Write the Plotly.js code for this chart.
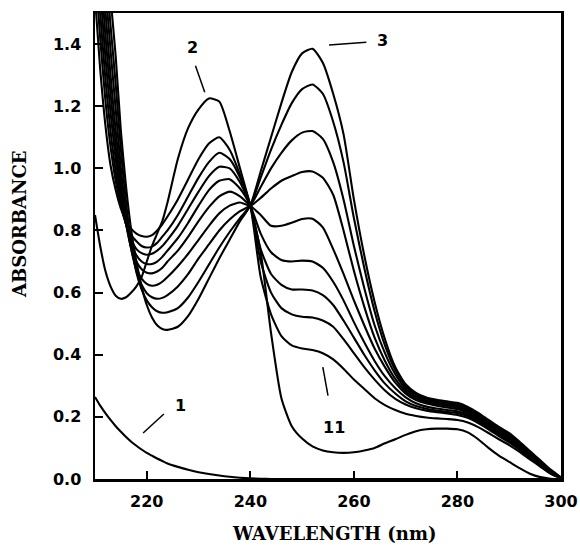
<!DOCTYPE html>
<html>
<head>
<meta charset="utf-8">
<script src="https://cdn.plot.ly/plotly-3.0.1.min.js"></script>
<style>html,body{margin:0;padding:0;background:#fff;}#chart{width:580px;height:548px;}</style>
</head>
<body>
<div id="chart"></div>
<script>
// Wavelength grid (nm)
const wavelength = [210,211,212,213,214,215,216,217,218,219,220,221,222,223,224,
  226,228,230,232,234,236,238,240,242,244,246,248,250,252,254,256,258,260,262,264,266,268,270,
  272,274,276,278,280,282,284,286,288,290,292,294,296,298,300];

// Absorbance of each spectrum (1 = blank, 2..11 = series)
const curve1 = [0.264,0.236,0.212,0.19,0.17,0.152,0.135,0.12,0.107,0.095,0.084,0.075,0.066,0.058,0.05,
  0.039,0.03,0.022,0.016,0.011,0.007,0.004,0.002,0.001,0,0,0,0,0,0,0,0,0,0,0,0,0,0,
  0,0,0,0,0,0,0,0,0,0,0,0,0,0,0];
const curve2 = [0.85,0.75,0.67,0.62,0.59,0.58,0.585,0.60,0.62,0.65,0.70,0.75,0.79,0.83,0.89,
  1.03,1.13,1.19,1.225,1.215,1.12,1.0,0.88,0.73,0.47,0.26,0.17,0.13,0.105,0.092,0.086,0.084,0.086,0.092,0.10,0.115,0.128,0.142,
  0.154,0.16,0.162,0.162,0.16,0.15,0.128,0.10,0.075,0.055,0.035,0.017,0.006,0.001,0];
const curve3 = [2.35,2.03,1.75,1.55,1.36,1.12,0.94,0.80,0.70,0.62,0.56,0.52,0.495,0.483,0.48,
  0.49,0.525,0.58,0.645,0.71,0.77,0.83,0.88,0.99,1.10,1.21,1.31,1.37,1.385,1.34,1.24,1.11,0.90,0.72,0.57,0.45,0.36,0.305,
  0.277,0.262,0.255,0.25,0.245,0.232,0.213,0.19,0.168,0.148,0.12,0.09,0.06,0.03,0.005];
const curve4 = [2.25,1.94,1.67,1.46,1.27,1.06,0.89,0.76,0.665,0.61,0.575,0.553,0.54,0.535,0.537,
  0.55,0.585,0.635,0.69,0.745,0.795,0.84,0.88,0.97,1.06,1.14,1.21,1.255,1.27,1.24,1.15,1.02,0.84,0.68,0.54,0.43,0.35,0.298,
  0.272,0.258,0.25,0.245,0.24,0.227,0.208,0.185,0.163,0.143,0.116,0.087,0.058,0.028,0.005];
const curve5 = [2.15,1.85,1.59,1.38,1.19,1.0,0.85,0.74,0.67,0.625,0.598,0.585,0.58,0.583,0.592,
  0.62,0.66,0.71,0.755,0.80,0.835,0.862,0.88,0.94,1.0,1.05,1.09,1.115,1.12,1.095,1.02,0.90,0.75,0.615,0.495,0.405,0.337,0.29,
  0.266,0.253,0.246,0.24,0.235,0.222,0.203,0.18,0.158,0.138,0.112,0.084,0.055,0.026,0.005];
const curve6 = [2.05,1.76,1.51,1.30,1.12,0.96,0.83,0.74,0.68,0.645,0.628,0.622,0.625,0.635,0.65,
  0.685,0.725,0.77,0.815,0.855,0.88,0.89,0.88,0.905,0.935,0.96,0.975,0.988,0.99,0.97,0.915,0.80,0.67,0.555,0.455,0.38,0.322,0.282,
  0.26,0.248,0.241,0.235,0.23,0.217,0.198,0.176,0.154,0.134,0.108,0.08,0.052,0.024,0.004];
const curve7 = [1.95,1.67,1.43,1.24,1.07,0.93,0.82,0.745,0.70,0.675,0.664,0.662,0.668,0.68,0.70,
  0.735,0.78,0.83,0.875,0.91,0.925,0.91,0.88,0.85,0.815,0.815,0.825,0.837,0.838,0.81,0.74,0.66,0.575,0.495,0.42,0.36,0.31,0.275,
  0.254,0.243,0.236,0.23,0.225,0.212,0.194,0.172,0.15,0.13,0.105,0.077,0.05,0.022,0.004];
const curve8 = [1.85,1.58,1.36,1.18,1.03,0.91,0.82,0.76,0.72,0.70,0.692,0.692,0.70,0.715,0.735,
  0.775,0.825,0.88,0.93,0.96,0.965,0.935,0.88,0.79,0.73,0.705,0.70,0.703,0.70,0.68,0.635,0.575,0.505,0.44,0.38,0.33,0.292,0.263,
  0.244,0.233,0.227,0.222,0.218,0.207,0.189,0.168,0.146,0.126,0.101,0.074,0.047,0.02,0.004];
const curve9 = [1.75,1.50,1.29,1.12,0.99,0.89,0.82,0.77,0.74,0.727,0.722,0.725,0.735,0.75,0.77,
  0.815,0.87,0.925,0.975,1.005,1.0,0.955,0.88,0.74,0.66,0.625,0.61,0.61,0.607,0.592,0.56,0.51,0.455,0.40,0.35,0.307,0.275,0.25,
  0.235,0.226,0.22,0.216,0.212,0.202,0.184,0.164,0.142,0.122,0.098,0.071,0.044,0.019,0.004];
const curve10 = [1.65,1.42,1.22,1.07,0.96,0.88,0.82,0.785,0.765,0.75,0.745,0.748,0.76,0.78,0.80,
  0.85,0.91,0.97,1.02,1.05,1.03,0.97,0.88,0.70,0.60,0.55,0.53,0.522,0.52,0.51,0.49,0.45,0.405,0.36,0.32,0.285,0.258,0.24,
  0.228,0.22,0.215,0.211,0.206,0.197,0.18,0.16,0.138,0.118,0.094,0.068,0.042,0.018,0.003];
const curve11 = [1.55,1.32,1.14,1.01,0.93,0.87,0.83,0.805,0.79,0.782,0.78,0.785,0.80,0.82,0.845,
  0.90,0.965,1.03,1.08,1.10,1.06,0.98,0.88,0.65,0.53,0.46,0.43,0.42,0.415,0.405,0.385,0.355,0.32,0.29,0.26,0.238,0.222,0.21,
  0.203,0.198,0.195,0.193,0.19,0.182,0.167,0.148,0.128,0.109,0.087,0.063,0.04,0.017,0.003];

const spectra = [curve1,curve2,curve3,curve4,curve5,curve6,curve7,curve8,curve9,curve10,curve11];

// Curve labels and their leader lines
const labelText = ['1','2','3','11'];
const labelX = [226.6, 228.8, 265.6, 256.2];
const labelY = [0.235, 1.39, 1.41, 0.165];
const leaderX0 = [219.3, 229.4, 255.2, 254.0];
const leaderY0 = [0.148, 1.33, 1.397, 0.36];
const leaderX1 = [223.3, 231.2, 262.4, 255.0];
const leaderY1 = [0.209, 1.245, 1.406, 0.268];

const xTicks = [220,240,260,280,300];
const yTicks = [0,0.2,0.4,0.6,0.8,1.0,1.2,1.4];
const xTitle = 'WAVELENGTH (nm)';
const yTitle = 'ABSORBANCE';

const tickFont = {family:'DejaVu Sans, sans-serif', size:16, color:'#000000', weight:'bold'};
const titleFont = {family:'DejaVu Serif, serif', size:18, color:'#000000', weight:'bold'};

const traces = spectra.map(ys => ({
  x: wavelength, y: ys, type:'scatter', mode:'lines',
  line:{color:'#000', width:2.1, shape:'spline', smoothing:0.6},
  hoverinfo:'skip', showlegend:false, cliponaxis:true
}));

const annotations = labelText.map((t,i) => ({
  x: labelX[i], y: labelY[i], xref:'x', yref:'y', text:t, showarrow:false,
  font:tickFont, xanchor:'center', yanchor:'middle'
}));
annotations.push({xref:'paper', yref:'paper', x:0.5, y:0, yshift:-54, xshift:6,
  text:xTitle, showarrow:false, font:titleFont, xanchor:'center', yanchor:'middle'});
annotations.push({xref:'paper', yref:'paper', x:0, y:0.5, xshift:-76, yshift:22,
  text:yTitle, textangle:-90, showarrow:false, font:titleFont, xanchor:'center', yanchor:'middle'});

const shapes = labelText.map((t,i) => ({
  type:'line', xref:'x', yref:'y', x0:leaderX0[i], y0:leaderY0[i], x1:leaderX1[i], y1:leaderY1[i],
  line:{color:'#000', width:1.5}
}));

const layout = {
  width:580, height:548,
  margin:{l:95, r:19, t:13, b:69},
  paper_bgcolor:'#fff', plot_bgcolor:'#fff',
  font:{color:'#000000'},
  showlegend:false,
  xaxis:{
    range:[210,300], tickvals:xTicks, ticktext:xTicks.map(String),
    ticks:'inside', ticklen:8, tickwidth:2, tickcolor:'#000',
    showline:true, linewidth:2.5, linecolor:'#000', mirror:true,
    showgrid:false, zeroline:false, tickfont:tickFont, ticklabelstandoff:6
  },
  yaxis:{
    range:[0,1.5], tickvals:yTicks, ticktext:yTicks.map(v=>v.toFixed(1)),
    ticks:'inside', ticklen:8, tickwidth:2, tickcolor:'#000',
    showline:true, linewidth:2.5, linecolor:'#000', mirror:true,
    showgrid:false, zeroline:false, tickfont:tickFont, ticklabelstandoff:8
  },
  annotations: annotations,
  shapes: shapes
};

Plotly.newPlot('chart', traces, layout, {staticPlot:true, displayModeBar:false});
</script>
</body>
</html>
